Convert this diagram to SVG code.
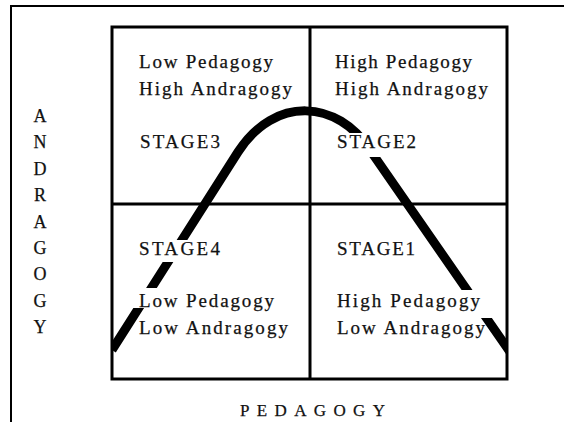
<svg xmlns="http://www.w3.org/2000/svg" width="564" height="422" viewBox="0 0 564 422">
<style>
.t{font-family:"Liberation Serif","Times New Roman",serif;font-size:19px;fill:#111;stroke:#111;stroke-width:0.25}
.ax{font-family:"Liberation Serif","Times New Roman",serif;font-size:18px;fill:#111;text-anchor:middle;stroke:#111;stroke-width:0.25}
.ln{fill:none;stroke:#000;stroke-width:3}
</style>
<defs>
<clipPath id="boxclip"><rect x="112" y="27" width="396" height="352"/></clipPath>
<mask id="gaps" maskUnits="userSpaceOnUse" x="0" y="0" width="564" height="422">
<rect x="0" y="0" width="564" height="422" fill="#fff"/>
<rect x="100" y="288" width="100" height="20" fill="#000"/>
<rect x="100" y="240" width="130" height="22" fill="#000"/>
<rect x="330" y="133" width="90" height="24" fill="#000"/>
<rect x="440" y="290" width="80" height="28" fill="#000"/>
</mask>
</defs>
<rect width="564" height="422" fill="#fff"/>
<polyline points="11,422 11,6 564,6" fill="none" stroke="#000" stroke-width="2"/>
<g id="grid">
<rect class="ln" x="112" y="27" width="395" height="352"/>
<line class="ln" x1="310" y1="27" x2="310" y2="379"/>
<line class="ln" x1="112" y1="204" x2="507" y2="204"/>
</g>
<g id="connectors">
<g clip-path="url(#boxclip)">
<path d="M112,350 L238,152 C275,95 338,100 370,150 L510,352" fill="none" stroke="#000" stroke-width="9" mask="url(#gaps)"/>
</g>
</g>
<g id="q3">
<text class="t" x="139" y="68" textLength="134" lengthAdjust="spacing">Low Pedagogy</text>
<text class="t" x="139" y="95" textLength="153" lengthAdjust="spacing">High Andragogy</text>
<text class="t" x="140" y="148" textLength="80" lengthAdjust="spacing">STAGE3</text>
</g>
<g id="q2">
<text class="t" x="335" y="68" textLength="137" lengthAdjust="spacing">High Pedagogy</text>
<text class="t" x="335" y="95" textLength="153" lengthAdjust="spacing">High Andragogy</text>
<text class="t" x="337" y="148" textLength="79" lengthAdjust="spacing">STAGE2</text>
</g>
<g id="q4">
<text class="t" x="139" y="255" textLength="81" lengthAdjust="spacing">STAGE4</text>
<text class="t" x="139" y="307" textLength="135" lengthAdjust="spacing">Low Pedagogy</text>
<text class="t" x="139" y="334" textLength="149" lengthAdjust="spacing">Low Andragogy</text>
</g>
<g id="q1">
<text class="t" x="337" y="255" textLength="78" lengthAdjust="spacing">STAGE1</text>
<text class="t" x="337" y="307" textLength="143" lengthAdjust="spacing">High Pedagogy</text>
<text class="t" x="337" y="334" textLength="148" lengthAdjust="spacing">Low Andragogy</text>
</g>
<g id="xaxis">
<text class="t" x="240" y="416" style="font-size:17px" textLength="145" lengthAdjust="spacing">PEDAGOGY</text>
</g>
<g id="yaxis">
<text class="ax" x="40" y="122">A</text>
<text class="ax" x="40" y="148">N</text>
<text class="ax" x="40" y="175">D</text>
<text class="ax" x="40" y="201">R</text>
<text class="ax" x="40" y="228">A</text>
<text class="ax" x="40" y="254">G</text>
<text class="ax" x="40" y="280">O</text>
<text class="ax" x="40" y="307">G</text>
<text class="ax" x="40" y="333">Y</text>
</g>
</svg>
